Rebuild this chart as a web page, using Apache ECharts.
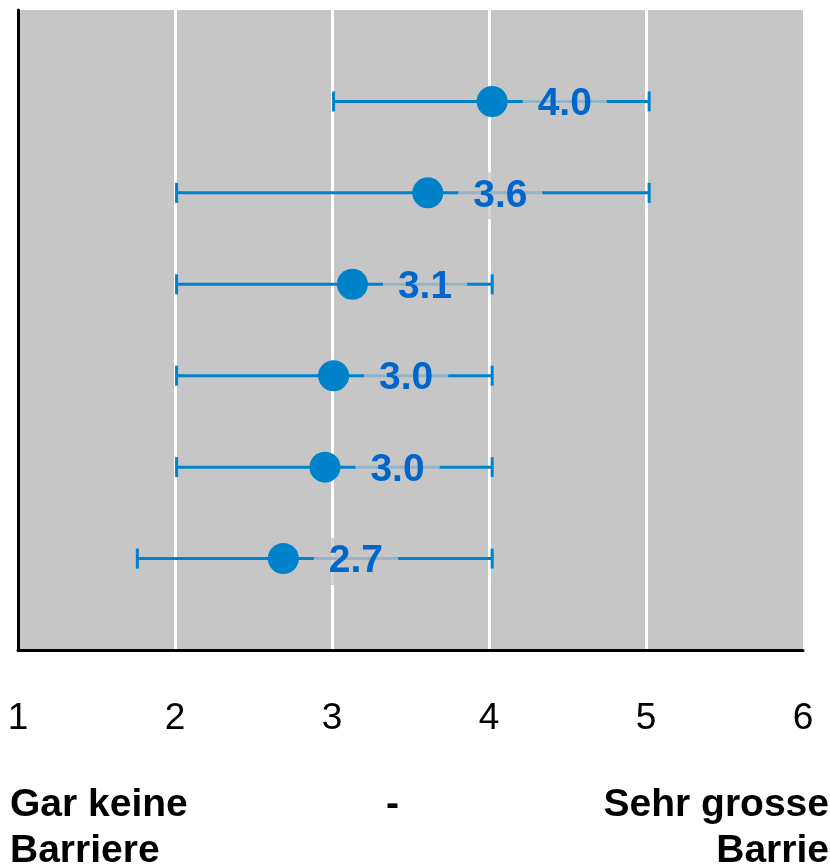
<!DOCTYPE html>
<html>
<head>
<meta charset="utf-8">
<script src="https://cdn.jsdelivr.net/npm/echarts@6/dist/echarts.min.js"></script>
<style>
  html, body { margin: 0; padding: 0; background: #fff; }
  #main { width: 830px; height: 866px; }
</style>
</head>
<body>
<div id="main"></div>
<script>
// rows from top (1) to bottom (6)
const rows = [1, 2, 3, 4, 5, 6]
const means = [4.02, 3.61, 3.13, 3.01, 2.955, 2.69]
const lows = [3.01, 2.01, 2.01, 2.01, 2.01, 1.76]
const highs = [5.02, 5.02, 4.02, 4.02, 4.02, 4.02]
const valueLabels = ['4.0', '3.6', '3.1', '3.0', '3.0', '2.7']
const xTicks = [1, 2, 3, 4, 5, 6]

const blue = '#0082ca'
const font = '"Liberation Sans", Arial, sans-serif'

let chart = echarts.init(document.getElementById('main'))

chart.setOption({
  animation: false,
  backgroundColor: '#fff',
  grid: {
    left: 18,
    right: 27,
    top: 10,
    bottom: 216,
    show: true,
    backgroundColor: '#c6c6c6',
    borderWidth: 0,
    outerBoundsMode: 'none'
  },
  xAxis: {
    type: 'value',
    min: xTicks[0],
    max: xTicks[xTicks.length - 1],
    interval: 1,
    axisLine: { show: true, onZero: false, lineStyle: { color: '#000', width: 3 } },
    axisTick: { show: false },
    axisLabel: {
      margin: 50,
      color: '#000',
      fontSize: 37,
      fontFamily: font
    },
    splitLine: {
      show: true,
      showMinLine: false,
      showMaxLine: false,
      lineStyle: { color: '#fff', width: 3 }
    }
  },
  yAxis: {
    type: 'value',
    min: 0,
    max: 7,
    inverse: true,
    axisLine: { show: true, onZero: false, lineStyle: { color: '#000', width: 3 } },
    axisTick: { show: false },
    axisLabel: { show: false },
    splitLine: { show: false }
  },
  graphic: [
    {
      type: 'text', x: 10, y: 782,
      style: { text: 'Gar keine\nBarriere', fill: '#000', font: 'bold 39px ' + font, lineHeight: 46 }
    },
    {
      type: 'text', x: 386, y: 782,
      style: { text: '-', fill: '#000', font: 'bold 39px ' + font, lineHeight: 46 }
    },
    {
      type: 'text', x: 829, y: 782,
      style: { text: 'Sehr grosse\nBarrie', fill: '#000', font: 'bold 39px ' + font, lineHeight: 46, align: 'right' }
    }
  ],
  series: [
    {
      type: 'custom',
      data: rows.map((r, i) => [lows[i], highs[i], r]),
      encode: { x: [0, 1], y: 2 },
      renderItem(params, api) {
        const y = api.value(2)
        const p1 = api.coord([api.value(0), y])
        const p2 = api.coord([api.value(1), y])
        const h = 10
        const st = { stroke: blue, lineWidth: 3 }
        return {
          type: 'group',
          children: [
            { type: 'line', shape: { x1: p1[0], y1: p1[1], x2: p2[0], y2: p2[1] }, style: st },
            { type: 'line', shape: { x1: p1[0], y1: p1[1] - h, x2: p1[0], y2: p1[1] + h }, style: st },
            { type: 'line', shape: { x1: p2[0], y1: p2[1] - h, x2: p2[0], y2: p2[1] + h }, style: st }
          ]
        }
      },
      z: 2
    },
    {
      type: 'scatter',
      data: rows.map((r, i) => [means[i], r]),
      symbolSize: 31,
      itemStyle: { color: blue, opacity: 1 },
      label: {
        show: true,
        position: 'right',
        distance: 15,
        offset: [0, 3],
        formatter: p => valueLabels[p.dataIndex],
        color: '#0066cc',
        fontSize: 39,
        fontWeight: 'bold',
        fontFamily: font,
        backgroundColor: 'rgba(198,198,198,0.75)',
        padding: [4, 15, 4, 15]
      },
      z: 3
    }
  ]
})
</script>
</body>
</html>
